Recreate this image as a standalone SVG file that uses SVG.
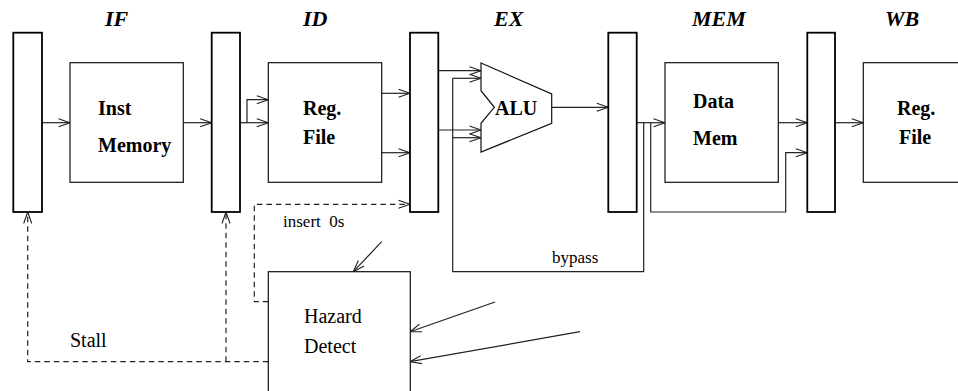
<svg xmlns="http://www.w3.org/2000/svg" width="958" height="391" viewBox="0 0 958 391">
<style>
.reg{fill:#fff;stroke:#000;stroke-width:1.8}
.box{fill:#fff;stroke:#111;stroke-width:1.2}
.ln{fill:none;stroke:#222;stroke-width:1.2}
.dash{fill:none;stroke:#222;stroke-width:1.2;stroke-dasharray:5.5 4}
.stage{font-family:"Liberation Serif",serif;font-weight:bold;font-style:italic;font-size:22px;fill:#000}
.bt{font-family:"Liberation Serif",serif;font-weight:bold;font-size:20px;fill:#000}
.nt{font-family:"Liberation Serif",serif;font-size:20px;fill:#000}
.st{font-family:"Liberation Serif",serif;font-size:17px;fill:#000}
</style>
<defs>
<marker id="ah" markerUnits="userSpaceOnUse" markerWidth="14" markerHeight="10" refX="12" refY="4.5" orient="auto" overflow="visible">
<path d="M0.5,0.5 L12,4.5 L0.5,8.5" fill="none" stroke="#222" stroke-width="1.1" stroke-dasharray="none"/>
</marker>
</defs>
<g id="stage-labels">
<text class="stage" x="105" y="26">IF</text>
<text class="stage" x="303" y="26">ID</text>
<text class="stage" x="494" y="26">EX</text>
<text class="stage" x="692" y="26">MEM</text>
<text class="stage" x="885" y="26">WB</text>
</g>
<g id="connectors">
<path class="ln" d="M42,122.7 H70" marker-end="url(#ah)"/>
<path class="ln" d="M183.3,122.7 H211.7" marker-end="url(#ah)"/>
<path class="ln" d="M240,122.7 H268.3" marker-end="url(#ah)"/>
<path class="ln" d="M247,122.7 V99.7 H268.3" marker-end="url(#ah)"/>
<path class="ln" d="M381.7,93.3 H410" marker-end="url(#ah)"/>
<path class="ln" d="M381.7,152.7 H410" marker-end="url(#ah)"/>
<path class="ln" d="M438.3,70.7 H481" marker-end="url(#ah)"/>
<path class="ln" d="M438.3,130 H481" marker-end="url(#ah)"/>
<path class="ln" d="M452.7,78.3 H481" marker-end="url(#ah)"/>
<path class="ln" d="M452.7,137.7 H481" marker-end="url(#ah)"/>
<path class="ln" d="M452.7,78.3 V271.7 H643.7 V122.7"/>
<path class="ln" d="M551.7,107.3 H608.3" marker-end="url(#ah)"/>
<path class="ln" d="M636.7,122.7 H665" marker-end="url(#ah)"/>
<path class="ln" d="M650.7,122.7 V212 H785.7 V152.7 H807.3" marker-end="url(#ah)"/>
<path class="ln" d="M778.3,122.7 H807.3" marker-end="url(#ah)"/>
<path class="ln" d="M835,122.7 H863.3" marker-end="url(#ah)"/>
<path class="dash" d="M268.3,361.7 H27.7 V212" marker-end="url(#ah)"/>
<path class="dash" d="M226,361.7 V212" marker-end="url(#ah)"/>
<path class="dash" d="M268.3,301.7 H254.3 V204.3 H410" marker-end="url(#ah)"/>
<path class="ln" d="M381.7,241.7 L353.3,271.7" marker-end="url(#ah)"/>
<path class="ln" d="M495,302 L410,331.7" marker-end="url(#ah)"/>
<path class="ln" d="M580,331.7 L410,361.7" marker-end="url(#ah)"/>
</g>
<g id="reg1"><rect class="reg" x="13.3" y="32.7" width="28.7" height="179.3"/></g>
<g id="reg2"><rect class="reg" x="211.7" y="32.7" width="28.3" height="179.3"/></g>
<g id="reg3"><rect class="reg" x="410" y="32.7" width="28.3" height="179.3"/></g>
<g id="reg4"><rect class="reg" x="608.3" y="32.7" width="28.4" height="179.3"/></g>
<g id="reg5"><rect class="reg" x="807.3" y="32.7" width="27.7" height="179.3"/></g>
<g id="inst-memory">
<rect class="box" x="70" y="62.7" width="113.3" height="119.6"/>
<text class="bt" x="98" y="115">Inst</text>
<text class="bt" x="98" y="152">Memory</text>
</g>
<g id="reg-file-id">
<rect class="box" x="268.3" y="62.7" width="113.4" height="119.6"/>
<text class="bt" x="303" y="115">Reg.</text>
<text class="bt" x="303" y="144">File</text>
</g>
<g id="alu">
<path class="box" d="M481,63 L551.7,94 L551.7,123.3 L481,152 L481,123.3 L494.3,107.3 L481,90.7 Z"/>
<text class="bt" x="495" y="115">ALU</text>
</g>
<g id="data-mem">
<rect class="box" x="665" y="62.7" width="113.3" height="119.6"/>
<text class="bt" x="693" y="108">Data</text>
<text class="bt" x="693" y="145">Mem</text>
</g>
<g id="reg-file-wb">
<rect class="box" x="863.3" y="62.7" width="130" height="119.6"/>
<text class="bt" x="897" y="115">Reg.</text>
<text class="bt" x="899" y="144">File</text>
</g>
<g id="hazard-detect">
<rect class="box" x="268.3" y="271.7" width="142" height="140"/>
<text class="nt" x="304" y="323.3">Hazard</text>
<text class="nt" x="304" y="353.3">Detect</text>
</g>
<g id="labels">
<text class="st" x="283" y="226.7" xml:space="preserve">insert  0s</text>
<text class="st" x="552" y="263">bypass</text>
<text class="nt" x="70" y="346.7">Stall</text>
</g>
</svg>
